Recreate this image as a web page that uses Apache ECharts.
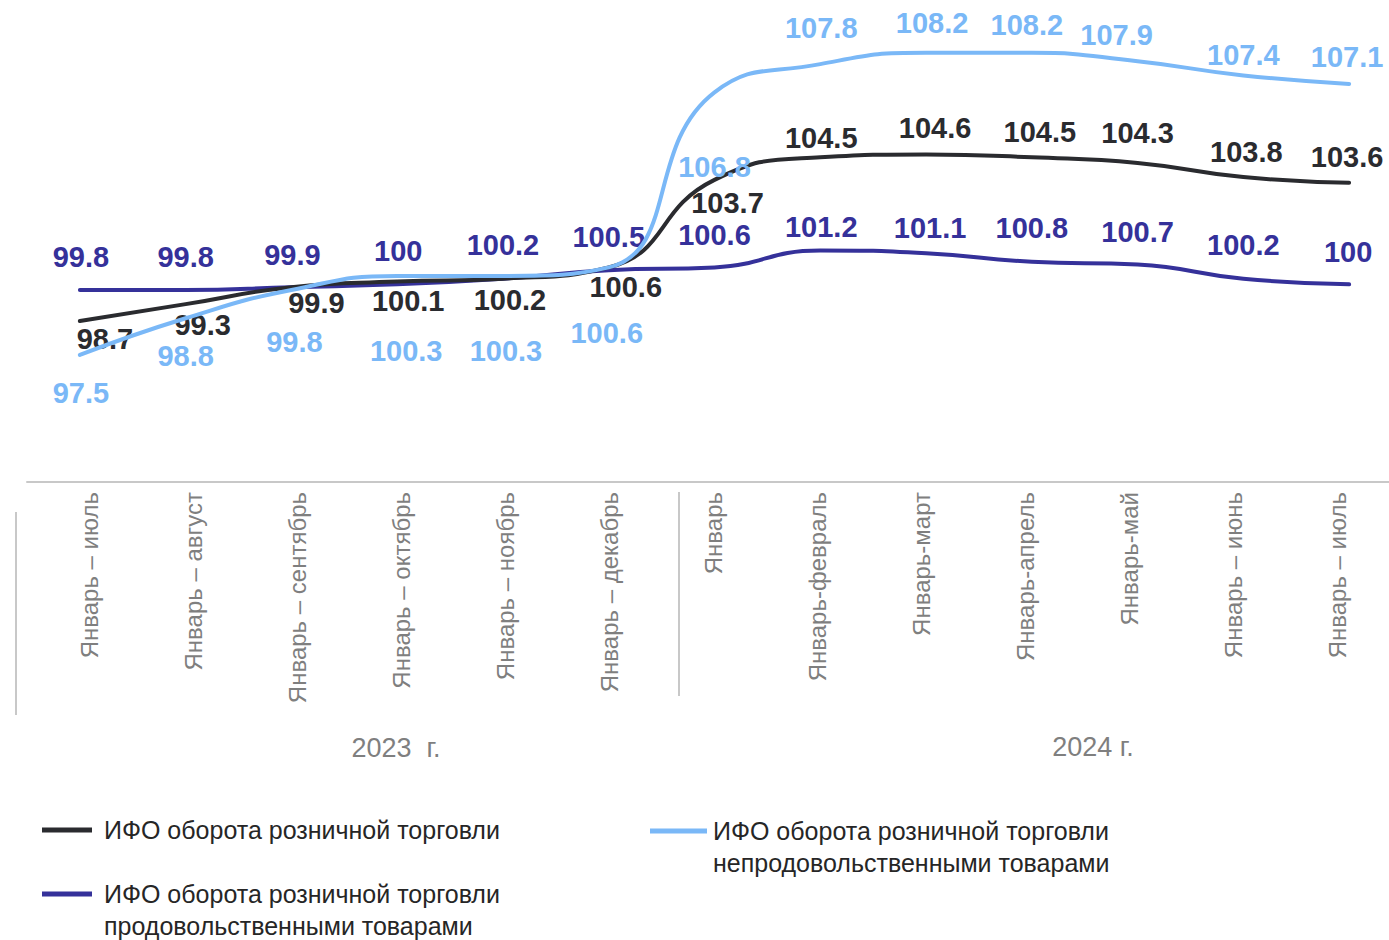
<!DOCTYPE html>
<html>
<head>
<meta charset="utf-8">
<script src="https://cdn.jsdelivr.net/npm/echarts@6/dist/echarts.min.js"></script>
<style>
html,body{margin:0;padding:0;background:#fff;overflow:hidden;}
#chart{width:1389px;height:940px;}
</style>
</head>
<body>
<div id="chart"></div>
<script>
// ---- data ----
const categories = [
  'Январь – июль', 'Январь – август', 'Январь – сентябрь', 'Январь – октябрь',
  'Январь – ноябрь', 'Январь – декабрь', 'Январь', 'Январь-февраль',
  'Январь-март', 'Январь-апрель', 'Январь-май', 'Январь – июнь', 'Январь – июль'
];
const yearGroups = ['2023  г.', '2024 г.'];
const seriesNames = [
  'ИФО оборота розничной торговли',
  'ИФО оборота розничной торговли продовольственными товарами',
  'ИФО оборота розничной торговли непродовольственными товарами'
];
const retailTotal   = [98.7, 99.3, 99.9, 100.1, 100.2, 100.6, 103.7, 104.5, 104.6, 104.5, 104.3, 103.8, 103.6];
const retailFood    = [99.8, 99.8, 99.9, 100, 100.2, 100.5, 100.6, 101.2, 101.1, 100.8, 100.7, 100.2, 100];
const retailNonFood = [97.5, 98.8, 99.8, 100.3, 100.3, 100.6, 106.8, 107.8, 108.2, 108.2, 107.9, 107.4, 107.1];

// ---- label placement (styling, pixel offsets from each point) ----
const offTotal = [[25,18],[17,21],[25,16],[11,19],[7,21],[17,20],[13,23],[1,-19],[9,-26],[8,-25],[0,-30],[3,-25],[-2,-26]];
const offFood = [[1,-33],[0,-33],[1,-32],[1,-33],[0,-34],[0,-33],[0,-32],[1,-23],[4,-25],[0,-34],[0,-33],[0,-34],[-1,-32]];
const offNonFood = [[1,38],[0,38],[3,52],[9,75],[3,75],[-2,66],[0,75],[1,-36],[6,-30],[-5,-28],[-21,-26],[0,-20],[-2,-27]];

const COL_TOTAL = '#2a2b2f';
const COL_FOOD = '#35319a';
const COL_NONFOOD = '#7ab8f7';
const GREY = '#7f7f7f';
const FONT = 'Liberation Sans, Arial, sans-serif';

// legend bar icon: single bar for one-line items, top bar in a taller box for two-line items
const ICON_BAR = 'rect';
const ICON_BAR_TOP = 'path://M0,0L50,0L50,5L0,5Z M0,37L50,37';

function buildData(values, offsets) {
  return values.map((v, i) => ({ value: v, label: { offset: offsets[i] } }));
}

function lineSeries(name, values, offsets, color, z) {
  return {
    name: name,
    type: 'line',
    xAxisIndex: 0,
    yAxisIndex: 0,
    smooth: 0.5,
    symbol: 'circle',
    symbolSize: 2,
    z: z,
    itemStyle: { color: color, opacity: 0 },
    lineStyle: { color: color, width: 4, cap: 'round', join: 'round' },
    emphasis: { disabled: true },
    label: {
      show: true,
      position: 'inside',
      align: 'center',
      verticalAlign: 'middle',
      color: color,
      opacity: 1,
      fontFamily: FONT,
      fontWeight: 'bold',
      fontSize: 29,
      formatter: p => String(p.value)
    },
    data: buildData(values, offsets)
  };
}

const chart = echarts.init(document.getElementById('chart'), null, { renderer: 'svg' });

const legendText = {
  fontFamily: FONT,
  fontSize: 25,
  color: '#262626',
  lineHeight: 32
};

const option = {
  animation: false,
  backgroundColor: '#ffffff',
  grid: [
    { left: 27, width: 1375, top: 2, height: 480, outerBoundsMode: 'none', containLabel: false },
    { left: 38, width: 1351, top: 2, height: 480, outerBoundsMode: 'none', containLabel: false }
  ],
  xAxis: [
    {
      type: 'category', gridIndex: 0, data: categories, boundaryGap: true,
      axisLine: { show: true, lineStyle: { color: '#c8c8c8', width: 2 } },
      axisTick: { show: false }, axisLabel: { show: false }
    },
    {
      type: 'category', gridIndex: 1, data: categories, boundaryGap: true,
      axisLine: { show: false }, axisTick: { show: false },
      axisLabel: {
        show: true, interval: 0, rotate: 90, margin: 10,
        color: GREY, fontSize: 24, fontFamily: FONT
      }
    }
  ],
  yAxis: [
    { type: 'value', gridIndex: 0, min: 93, max: 110, show: false, splitLine: { show: false } },
    { type: 'value', gridIndex: 1, min: 0, max: 1, show: false, splitLine: { show: false } }
  ],
  legend: [
    {
      left: 42, top: 814, padding: 0, selectedMode: false,
      data: [seriesNames[0]], icon: ICON_BAR, itemWidth: 50, itemHeight: 5,
      itemStyle: { color: COL_TOTAL, opacity: 1 },
      textStyle: Object.assign({}, legendText, { padding: [0, 0, 0, 7] })
    },
    {
      left: 42, top: 878, padding: 0, selectedMode: false, symbolKeepAspect: false,
      data: [seriesNames[1]], icon: ICON_BAR_TOP, itemWidth: 50, itemHeight: 37,
      itemStyle: { color: COL_FOOD, opacity: 1, borderWidth: 0 },
      formatter: n => n.replace(' продовольственными', '\nпродовольственными'),
      textStyle: Object.assign({}, legendText, { padding: [0, 0, 0, 7] })
    },
    {
      left: 650, top: 815, padding: 0, selectedMode: false, symbolKeepAspect: false,
      data: [seriesNames[2]], icon: ICON_BAR_TOP, itemWidth: 57, itemHeight: 37,
      itemStyle: { color: COL_NONFOOD, opacity: 1, borderWidth: 0 },
      formatter: n => n.replace(' непродовольственными', '\nнепродовольственными'),
      textStyle: Object.assign({}, legendText, { padding: [0, 0, 0, 1] })
    }
  ],
  graphic: [
    { type: 'line', shape: { x1: 16, y1: 512, x2: 16, y2: 715 }, style: { stroke: '#c8c8c8', lineWidth: 2 } },
    { type: 'line', shape: { x1: 679, y1: 492, x2: 679, y2: 696 }, style: { stroke: '#c8c8c8', lineWidth: 2 } },
    { type: 'text', x: 396, y: 748, style: { text: yearGroups[0], fill: GREY, fontSize: 27, fontFamily: FONT, align: 'center', verticalAlign: 'middle' } },
    { type: 'text', x: 1093, y: 747, style: { text: yearGroups[1], fill: GREY, fontSize: 27, fontFamily: FONT, align: 'center', verticalAlign: 'middle' } }
  ],
  series: [
    lineSeries(seriesNames[1], retailFood, offFood, COL_FOOD, 2),
    lineSeries(seriesNames[0], retailTotal, offTotal, COL_TOTAL, 3),
    lineSeries(seriesNames[2], retailNonFood, offNonFood, COL_NONFOOD, 4)
  ]
};

chart.setOption(option);
</script>
</body>
</html>
